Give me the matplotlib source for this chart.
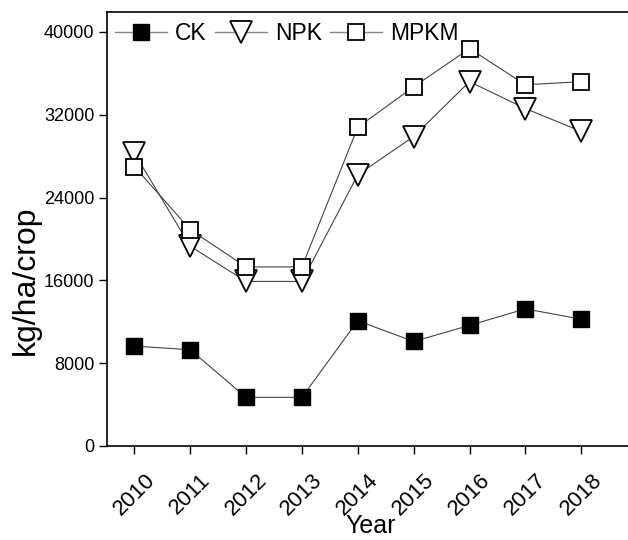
import matplotlib
matplotlib.use("Agg")
import matplotlib.pyplot as plt
from matplotlib.transforms import ScaledTranslation

years = [2010, 2011, 2012, 2013, 2014, 2015, 2016, 2017, 2018]
ck = [9650, 9300, 4700, 4700, 12100, 10100, 11650, 13250, 12250]
npk = [28300, 19300, 15900, 15900, 26200, 29900, 35200, 32600, 30400]
mpkm = [27000, 20900, 17300, 17300, 30800, 34700, 38400, 34900, 35200]
series_names = ["CK", "NPK", "MPKM"]
yticks = [0, 8000, 16000, 24000, 32000, 40000]

plt.rcParams['font.family'] = ['Liberation Sans', 'DejaVu Sans']

fig = plt.figure(figsize=(6.28, 5.40), dpi=100)
ax = fig.add_axes([107/628, 1 - 446/540, 1 - 107/628 + 0.01, (446 - 12)/540])

lc = '#444444'
ax.plot(years, ck, color=lc, lw=0.8, marker='s', ms=12, mfc='black', mec='black', mew=1.0, label=series_names[0])
ax.plot(years, npk, color=lc, lw=0.8, marker='v', ms=16, mfc='white', mec='black', mew=1.3, label=series_names[1])
ax.plot(years, mpkm, color=lc, lw=0.8, marker='s', ms=12, mfc='white', mec='black', mew=1.3, label=series_names[2])

ax.set_xlim(2009.51, 2018.95)
ax.set_ylim(0, 41930)
ax.set_xticks(years)
ax.set_xticklabels([str(y) for y in years], rotation=45, fontsize=16, ha='center', va='top')
offset = ScaledTranslation(-4/100, 0, fig.dpi_scale_trans)
for lab in ax.get_xticklabels():
    lab.set_transform(lab.get_transform() + offset)
ax.set_yticks(yticks)
ax.set_yticklabels([str(v) for v in yticks], fontsize=13)
ax.tick_params(direction='out', length=6, width=1.0, pad=3)
ax.tick_params(axis='x', pad=11)
for s in ['left', 'bottom', 'top']:
    ax.spines[s].set_linewidth(1.2)
ax.spines['right'].set_visible(False)

ax.set_xlabel('Year', fontsize=18, labelpad=-4)
ax.set_ylabel('kg/ha/crop', fontsize=23)
ax.yaxis.set_label_coords(-0.125, (446 - 280) / 434)

leg = ax.legend(loc='upper left', ncol=3, frameon=False, fontsize=16.5,
                bbox_to_anchor=(0.0, 0.995), borderaxespad=0.15,
                handlelength=2.27, handletextpad=0.35, columnspacing=0.35, borderpad=0.2)
for line in leg.get_lines():
    line.set_color('#888888')
    line.set_linewidth(1.0)

fig.savefig('out.png', dpi=100)
